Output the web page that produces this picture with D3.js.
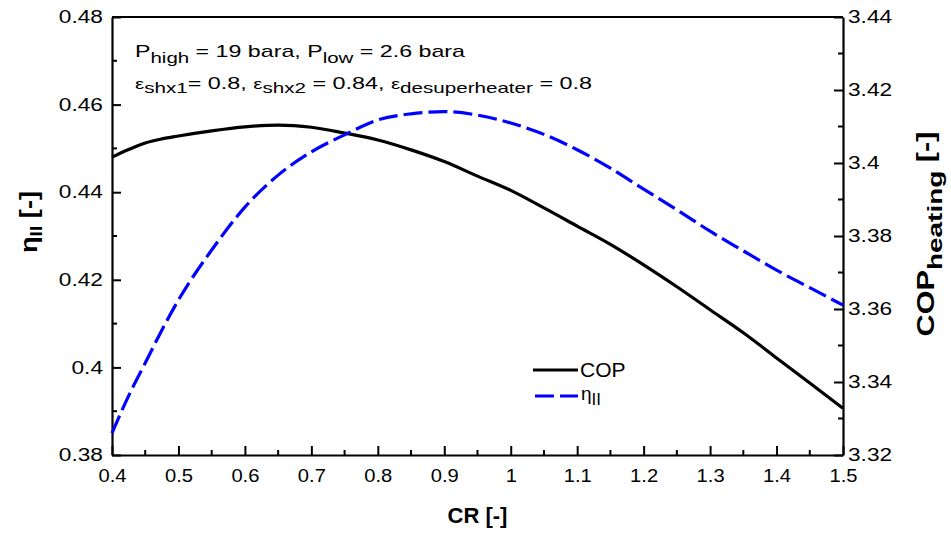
<!DOCTYPE html>
<html><head><meta charset="utf-8">
<script src="https://cdn.jsdelivr.net/npm/d3@7"></script>
<style>body{margin:0;background:#fff}svg{display:block}text{font-family:"Liberation Sans",Arial,sans-serif}</style>
</head><body><svg id="c" width="951" height="538"></svg>
<script>
const crValues = [0.4,0.425,0.45,0.475,0.5,0.55,0.6,0.65,0.7,0.75,0.8,0.85,0.9,0.95,1.0,1.05,1.1,1.15,1.2,1.25,1.3,1.35,1.4,1.45,1.5];
const etaII   = [0.3850,0.3935,0.4010,0.4085,0.4154,0.4268,0.4366,0.4439,0.4492,0.4531,0.4565,0.4579,0.4584,0.4576,0.4558,0.4532,0.4497,0.4455,0.4407,0.4360,0.4311,0.4266,0.4222,0.4182,0.4142];
const copHeat = [3.4016,3.4037,3.4055,3.4066,3.4074,3.4088,3.4099,3.4104,3.4098,3.4082,3.4063,3.4036,3.4004,3.3964,3.3925,3.3877,3.3827,3.3777,3.3721,3.3661,3.3598,3.3535,3.3466,3.3397,3.3328];
const xTicks = [0.4,0.5,0.6,0.7,0.8,0.9,1.0,1.1,1.2,1.3,1.4,1.5];
const yLeftTicks = [0.38,0.40,0.42,0.44,0.46,0.48];
const yRightTicks = [3.32,3.34,3.36,3.38,3.40,3.42,3.44];

const svg = d3.select("#c");
const L=112,R=843,T=17,B=455;
const x = d3.scaleLinear().domain([0.4,1.5]).range([L,R]);
const yL = d3.scaleLinear().domain([0.38,0.48]).range([B,T]);
const yR = d3.scaleLinear().domain([3.32,3.44]).range([B,T]);
const fmt = d => String(+d.toFixed(2));
function stretch(sel, f){ sel.each(function(){ const w=this.getComputedTextLength(); d3.select(this).attr("textLength",w*f).attr("lengthAdjust","spacingAndGlyphs"); }); }
function fitTo(sel, w){ sel.attr("textLength",w).attr("lengthAdjust","spacingAndGlyphs"); }

// minor ticks
const g = svg.append("g");
d3.range(0.45,1.5,0.1).forEach(v=>g.append("line").attr("x1",x(v)).attr("x2",x(v)).attr("y1",B).attr("y2",B-5).attr("stroke","#000").attr("stroke-width",2));
d3.range(0.39,0.48,0.02).forEach(v=>g.append("line").attr("x1",L).attr("x2",L+5).attr("y1",yL(v)).attr("y2",yL(v)).attr("stroke","#000").attr("stroke-width",2));
d3.range(3.33,3.44,0.02).forEach(v=>g.append("line").attr("x1",R).attr("x2",R-5).attr("y1",yR(v)).attr("y2",yR(v)).attr("stroke","#000").attr("stroke-width",2));

// axes
const ax = svg.append("g").attr("transform",`translate(0,${B})`).call(d3.axisBottom(x).tickValues(xTicks).tickFormat(fmt).tickSizeInner(-9).tickSizeOuter(0).tickPadding(14));
const ayl = svg.append("g").attr("transform",`translate(${L},0)`).call(d3.axisLeft(yL).tickValues(yLeftTicks).tickFormat(fmt).tickSizeInner(-9).tickSizeOuter(0).tickPadding(9));
const ayr = svg.append("g").attr("transform",`translate(${R},0)`).call(d3.axisRight(yR).tickValues(yRightTicks).tickFormat(fmt).tickSizeInner(-9).tickSizeOuter(0).tickPadding(5));
[ax,ayl,ayr].forEach(a=>{a.selectAll("path").attr("stroke","#000").attr("stroke-width",2.2);a.selectAll("line").attr("stroke","#000").attr("stroke-width",2);a.selectAll("text").attr("font-size",18).attr("fill","#000").attr("font-family","Liberation Sans, Arial, sans-serif");});
stretch(ax.selectAll("text"),1.12);
stretch(ayl.selectAll("text"),1.26);
stretch(ayr.selectAll("text"),1.26);
svg.append("line").attr("x1",L).attr("x2",R).attr("y1",T).attr("y2",T).attr("stroke","#000").attr("stroke-width",2.2);

// curves
const pts = (ys)=>crValues.map((c,i)=>[c,ys[i]]);
svg.append("path").datum(pts(copHeat)).attr("fill","none").attr("stroke","#000").attr("stroke-width",3.2)
  .attr("d",d3.line().x(d=>x(d[0])).y(d=>yR(d[1])).curve(d3.curveMonotoneX));
svg.append("path").datum(pts(etaII)).attr("fill","none").attr("stroke","#0000ff").attr("stroke-width",3.2).attr("stroke-dasharray","19,6")
  .attr("d",d3.line().x(d=>x(d[0])).y(d=>yL(d[1])).curve(d3.curveMonotoneX));

// axis titles
svg.append("text").attr("x",(L+R)/2).attr("y",523).attr("text-anchor","middle").attr("font-size",22).attr("font-weight","bold").text("CR [-]");
const tl = svg.append("text").attr("transform","translate(37,222) rotate(-90)").attr("text-anchor","middle").attr("font-size",24).attr("font-weight","bold");
tl.append("tspan").text("η");
tl.append("tspan").attr("font-size",17).attr("dy",5).text("II");
tl.append("tspan").attr("dy",-5).text(" [-]");
fitTo(tl,62);
const tr = svg.append("text").attr("transform","translate(934,234) rotate(-90)").attr("text-anchor","middle").attr("font-size",23).attr("font-weight","bold");
tr.append("tspan").text("COP");
tr.append("tspan").attr("font-size",21).attr("dy",8).text("heating");
tr.append("tspan").attr("dy",-8).text(" [-]");
fitTo(tr,205);

// annotation
const a1 = svg.append("text").attr("x",135).attr("y",57).attr("font-size",17);
a1.append("tspan").text("P");
a1.append("tspan").attr("dy",6).attr("font-size",15).text("high");
a1.append("tspan").attr("dy",-6).text(" = 19 bara, P");
a1.append("tspan").attr("dy",6).attr("font-size",15).text("low");
a1.append("tspan").attr("dy",-6).text(" = 2.6 bara");
fitTo(a1,330);
const a2 = svg.append("text").attr("x",135).attr("y",89).attr("font-size",17);
a2.append("tspan").attr("font-size",15).text("ε");
a2.append("tspan").attr("dy",4).attr("font-size",15).text("shx1");
a2.append("tspan").attr("dy",-4).text("= 0.8, ");
a2.append("tspan").attr("font-size",15).text("ε");
a2.append("tspan").attr("dy",4).attr("font-size",15).text("shx2");
a2.append("tspan").attr("dy",-4).text(" = 0.84, ");
a2.append("tspan").attr("font-size",15).text("ε");
a2.append("tspan").attr("dy",4).attr("font-size",15).text("desuperheater");
a2.append("tspan").attr("dy",-4).text(" = 0.8");
fitTo(a2,457);

// legend
svg.append("line").attr("x1",533).attr("x2",578).attr("y1",370).attr("y2",370).attr("stroke","#000").attr("stroke-width",3.2);
svg.append("text").attr("x",580).attr("y",377).attr("font-size",21).text("COP");
svg.append("line").attr("x1",535).attr("x2",578).attr("y1",396).attr("y2",396).attr("stroke","#0000ff").attr("stroke-width",3.2).attr("stroke-dasharray","19,6");
const lg = svg.append("text").attr("x",581).attr("y",400).attr("font-size",19);
lg.append("tspan").text("η");
lg.append("tspan").attr("dy",5).attr("font-size",17).text("II");
</script></body></html>
